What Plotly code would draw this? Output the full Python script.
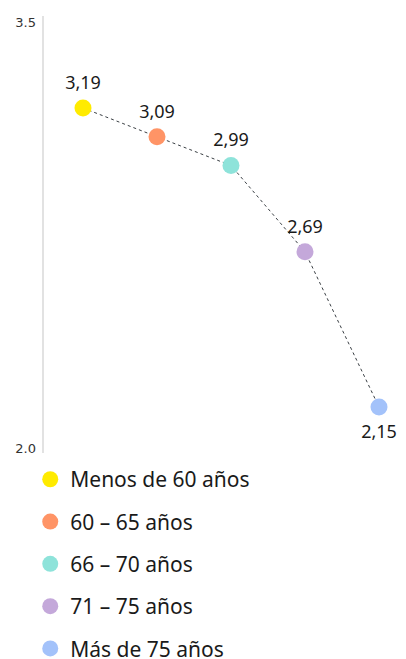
import plotly.graph_objects as go

categories = ["Menos de 60 años", "60 – 65 años", "66 – 70 años", "71 – 75 años", "Más de 75 años"]
values = [3.19, 3.09, 2.99, 2.69, 2.15]
labels = ["3,19", "3,09", "2,99", "2,69", "2,15"]
colors = ["#FFEB00", "#FF9466", "#8EE3DA", "#C4A8DA", "#A3C2FA"]
positions = ["top center", "top center", "top center", "top center", "bottom center"]
y_range = [1.99, 3.51]
y_label_pos = [2.007, 3.486]
y_tick_text = ["2.0", "3.5"]

xs = list(range(len(categories)))
label_pad = {"top center": 22, "bottom center": 27}

fig = go.Figure()
fig.add_trace(go.Scatter(
    x=xs, y=values, mode="lines", showlegend=False, hoverinfo="skip",
    line=dict(color="#3a3f44", width=1, dash="3px,3px"),
))
fig.add_trace(go.Scatter(
    x=xs, y=values, mode="lines", showlegend=False, hoverinfo="skip",
    line=dict(color="rgba(0,0,0,0)", width=0), yaxis="y2",
))
for i, (c, v, t, col, pos) in enumerate(zip(categories, values, labels, colors, positions)):
    fig.add_trace(go.Scatter(
        x=[xs[i]], y=[v], mode="markers", name=c, legendgroup=c,
        marker=dict(size=17, color=col), cliponaxis=False,
    ))
    fig.add_trace(go.Scatter(
        x=[xs[i]], y=[v], mode="markers+text", text=[t], textposition=pos,
        showlegend=False, hoverinfo="skip", legendgroup=c,
        textfont=dict(size=18, color="#1a1a1a", family="Noto Sans"),
        marker=dict(size=label_pad[pos], color="rgba(0,0,0,0)"),
        cliponaxis=False,
    ))

fig.update_layout(
    width=398, height=651,
    margin=dict(l=36, r=0, t=8, b=206, autoexpand=False),
    paper_bgcolor="white", plot_bgcolor="white",
    font=dict(family="Noto Sans", color="#1a1a1a"),
    xaxis=dict(range=[-0.527, 4.365], visible=False),
    yaxis=dict(
        range=y_range, tickvals=y_range, showticklabels=False,
        showgrid=False, zeroline=False, showline=True, automargin=False,
        linecolor="#e2e2e2", linewidth=2,
        ticks="inside", ticklen=10, tickcolor="#e2e2e2", tickwidth=2,
    ),
    yaxis2=dict(
        range=y_range, tickvals=y_label_pos, ticktext=y_tick_text,
        overlaying="y", side="left", anchor="x",
        showgrid=False, zeroline=False, showline=False, automargin=False,
        ticks="", ticklabelstandoff=7,
        tickfont=dict(family="DejaVu Sans", size=13, color="#333333"),
    ),
    legend=dict(
        x=-0.038, y=-0.014, xanchor="left", yanchor="top",
        orientation="v", tracegroupgap=12,
        font=dict(size=21, color="#1a1a1a", family="Noto Sans"),
        itemsizing="trace",
    ),
)

fig.write_html("out.html")
